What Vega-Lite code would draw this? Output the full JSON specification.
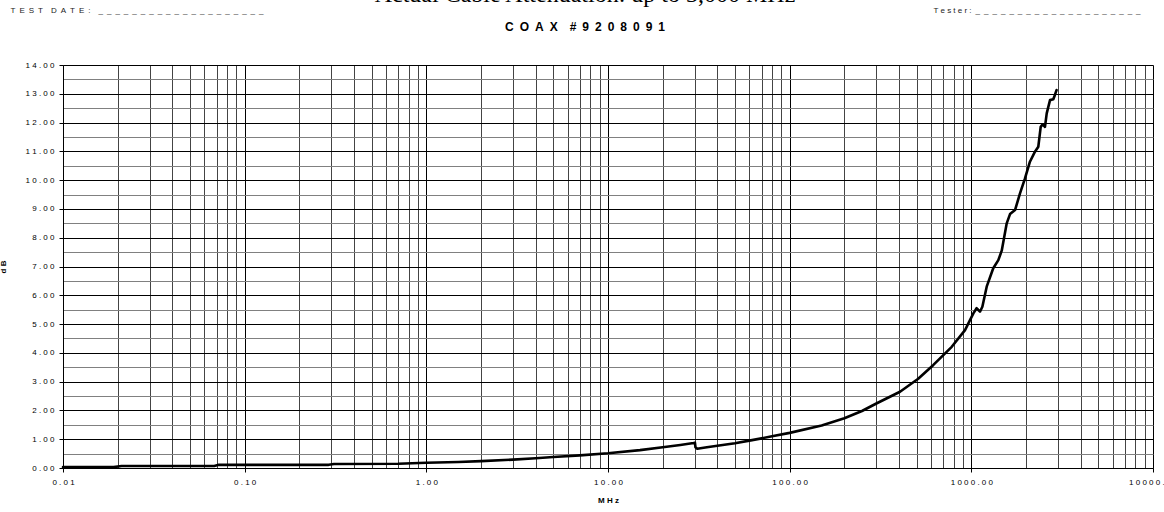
{
  "$schema": "https://vega.github.io/schema/vega-lite/v6.json",
  "width": 1090,
  "height": 403,
  "autosize": {"type": "none"},
  "padding": {"left": 63, "top": 65, "right": 11, "bottom": 44},
  "background": "white",
  "config": {"view": {"stroke": null}, "font": "Liberation Sans"},
  "title": {
    "text": "Actual Cable Attenuation: up to 3,000 MHz",
    "subtitle": "C\u2002O\u2002A\u2002X\u2002\u2002#\u20029\u20022\u20020\u20028\u20020\u20029\u20021",
    "anchor": "middle",
    "frame": "group",
    "dx": -23,
    "font": "Liberation Serif",
    "fontSize": 24,
    "fontWeight": "normal",
    "color": "#000",
    "subtitleFont": "Liberation Sans",
    "subtitleFontSize": 12,
    "subtitleFontWeight": "bold",
    "subtitleColor": "#000",
    "subtitlePadding": 15,
    "offset": -27
  },
  "data": {
    "values": [
      {"f": 0.01, "db": 0.03}, {"f": 0.019, "db": 0.03}, {"f": 0.021, "db": 0.07},
      {"f": 0.068, "db": 0.07}, {"f": 0.072, "db": 0.11}, {"f": 0.29, "db": 0.11},
      {"f": 0.31, "db": 0.14}, {"f": 0.7, "db": 0.15}, {"f": 1.0, "db": 0.18},
      {"f": 1.5, "db": 0.21}, {"f": 2.0, "db": 0.24}, {"f": 3.0, "db": 0.29},
      {"f": 4.0, "db": 0.34}, {"f": 5.0, "db": 0.38}, {"f": 7.0, "db": 0.44},
      {"f": 10, "db": 0.51}, {"f": 15, "db": 0.62}, {"f": 20, "db": 0.72},
      {"f": 25, "db": 0.8}, {"f": 29.6, "db": 0.87}, {"f": 30.1, "db": 0.88},
      {"f": 30.3, "db": 0.72}, {"f": 31, "db": 0.67}, {"f": 35, "db": 0.72},
      {"f": 40, "db": 0.77}, {"f": 50, "db": 0.86}, {"f": 60, "db": 0.95},
      {"f": 70, "db": 1.03}, {"f": 80, "db": 1.1}, {"f": 100, "db": 1.22},
      {"f": 150, "db": 1.48}, {"f": 200, "db": 1.73}, {"f": 250, "db": 1.98},
      {"f": 300, "db": 2.24}, {"f": 405, "db": 2.65}, {"f": 510, "db": 3.1},
      {"f": 618, "db": 3.58}, {"f": 780, "db": 4.21}, {"f": 923, "db": 4.79},
      {"f": 1026, "db": 5.37}, {"f": 1069, "db": 5.55}, {"f": 1116, "db": 5.43},
      {"f": 1150, "db": 5.6}, {"f": 1215, "db": 6.3}, {"f": 1320, "db": 6.94},
      {"f": 1408, "db": 7.22}, {"f": 1470, "db": 7.55}, {"f": 1566, "db": 8.5},
      {"f": 1633, "db": 8.82}, {"f": 1740, "db": 8.96}, {"f": 1853, "db": 9.54},
      {"f": 1974, "db": 10.06}, {"f": 2102, "db": 10.64}, {"f": 2240, "db": 10.99},
      {"f": 2337, "db": 11.16}, {"f": 2409, "db": 11.85}, {"f": 2470, "db": 11.94},
      {"f": 2543, "db": 11.85}, {"f": 2600, "db": 12.32}, {"f": 2711, "db": 12.78},
      {"f": 2826, "db": 12.81}, {"f": 2884, "db": 12.96}, {"f": 2945, "db": 13.13}
    ]
  },
  "layer": [
    {
      "mark": {"type": "line", "color": "#000", "strokeWidth": 2.6, "strokeJoin": "round", "strokeCap": "round"},
      "encoding": {
        "x": {
          "field": "f", "type": "quantitative",
          "scale": {"type": "log", "domain": [0.01, 10000], "nice": false},
          "axis": {
            "values": [0.01,0.02,0.03,0.04,0.05,0.06,0.07,0.08,0.09,0.1,0.2,0.3,0.4,0.5,0.6,0.7,0.8,0.9,1,2,3,4,5,6,7,8,9,10,20,30,40,50,60,70,80,90,100,200,300,400,500,600,700,800,900,1000,2000,3000,4000,5000,6000,7000,8000,9000,10000],
            "grid": true,
            "gridColor": {"condition": {"test": "abs(log(datum.value)/LN10 - round(log(datum.value)/LN10)) < 0.01", "value": "#000"}, "value": "#444"},
            "gridOpacity": 1,
            "gridWidth": 1,
            "domainColor": "#000",
            "tickColor": {"condition": {"test": "abs(log(datum.value)/LN10 - round(log(datum.value)/LN10)) < 0.01", "value": "#000"}, "value": "transparent"},
            "tickSize": 4,
            "labelExpr": "abs(log(datum.value)/LN10 - round(log(datum.value)/LN10)) < 0.01 ? replace(format(datum.value, '.2f'), regexp('(.)(?=.)', 'g'), '$1 ') : ''",
            "labelFont": "Liberation Sans",
            "labelFontSize": 8,
            "labelColor": "#000",
            "labelPadding": 6,
            "labelFlush": false,
            "labelOverlap": false,
            "labelBound": false,
            "title": "M H z",
            "titleFont": "Liberation Sans",
            "titleFontSize": 8,
            "titleFontWeight": "bold",
            "titleColor": "#000",
            "titlePadding": 10
          }
        },
        "y": {
          "field": "db", "type": "quantitative",
          "scale": {"domain": [0, 14], "nice": false},
          "axis": {
            "values": [0,0.5,1,1.5,2,2.5,3,3.5,4,4.5,5,5.5,6,6.5,7,7.5,8,8.5,9,9.5,10,10.5,11,11.5,12,12.5,13,13.5,14],
            "grid": true,
            "gridColor": {"condition": {"test": "datum.value % 1 == 0", "value": "#000"}, "value": "#808080"},
            "gridOpacity": 1,
            "gridWidth": 1,
            "domainColor": "#000",
            "tickColor": {"condition": {"test": "datum.value % 1 == 0", "value": "#000"}, "value": "transparent"},
            "tickSize": 4,
            "labelExpr": "datum.value % 1 == 0 ? replace(format(datum.value, '.2f'), regexp('(.)(?=.)', 'g'), '$1 ') : ''",
            "labelFont": "Liberation Sans",
            "labelFontSize": 8,
            "labelColor": "#000",
            "labelPadding": 5,
            "labelOverlap": false,
            "labelBound": false,
            "title": "d B",
            "titleFont": "Liberation Sans",
            "titleFontSize": 8,
            "titleFontWeight": "bold",
            "titleColor": "#000",
            "titlePadding": 18
          }
        }
      }
    },
    {
      "mark": {"type": "line", "strokeOpacity": 0},
      "encoding": {
        "x": {
          "field": "f", "type": "quantitative",
          "axis": {
            "orient": "top", "domain": false, "ticks": false, "labels": false, "grid": false,
            "title": "T\u2002E\u2002S\u2002T\u2002\u2002D\u2002A\u2002T\u2002E\u2002:\u2002\u2002_\u2002_\u2002_\u2002_\u2002_\u2002_\u2002_\u2002_\u2002_\u2002_\u2002_\u2002_\u2002_\u2002_\u2002_\u2002_\u2002_\u2002_\u2002_\u2002_",
            "titleX": -53, "titleY": -53, "titleAlign": "left", "titleBaseline": "alphabetic", "titleAngle": 0,
            "titleFont": "Liberation Sans", "titleFontSize": 8, "titleFontWeight": "normal", "titleColor": "#222"
          }
        },
        "y": {
          "field": "db", "type": "quantitative",
          "axis": {
            "orient": "right", "domain": false, "ticks": false, "labels": false, "grid": false,
            "title": "T e s t e r :\u2002_\u2002_\u2002_\u2002_\u2002_\u2002_\u2002_\u2002_\u2002_\u2002_\u2002_\u2002_\u2002_\u2002_\u2002_\u2002_\u2002_\u2002_\u2002_\u2002_",
            "titleX": -220, "titleY": -53, "titleAlign": "left", "titleBaseline": "alphabetic", "titleAngle": 0,
            "titleFont": "Liberation Sans", "titleFontSize": 8, "titleFontWeight": "normal", "titleColor": "#222"
          }
        }
      }
    }
  ],
  "resolve": {"axis": {"x": "independent", "y": "independent"}}
}
